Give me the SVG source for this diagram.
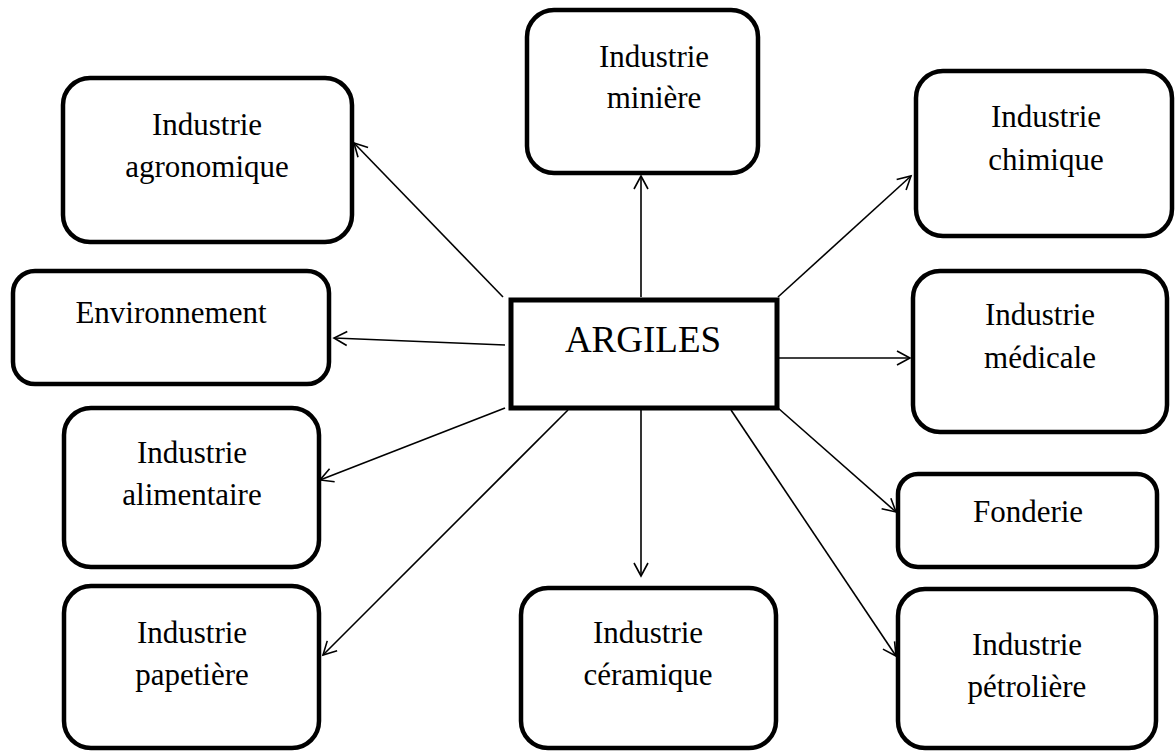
<svg xmlns="http://www.w3.org/2000/svg" width="1176" height="751" viewBox="0 0 1176 751">
<defs>
<marker id="arr" markerUnits="userSpaceOnUse" markerWidth="30" markerHeight="30" viewBox="-15 -15 30 30" refX="0" refY="0" orient="auto">
<path d="M-13,-7 L0,0 L-13,7" fill="none" stroke="#000" stroke-width="1.6"/>
</marker>
</defs>
<style>
.box{fill:#fff;stroke:#000;stroke-width:4.5}
.t{font-family:"Liberation Serif","Times New Roman",serif;font-size:31px;fill:#000;text-anchor:middle}
.c line{stroke:#000;stroke-width:1.6;marker-end:url(#arr)}
</style>
<rect width="1176" height="751" fill="#fff"/>
<g id="connectors" class="c">
<line x1="503" y1="297" x2="354" y2="143"/>
<line x1="641" y1="297" x2="641" y2="176"/>
<line x1="778" y1="297" x2="911" y2="176"/>
<line x1="505" y1="345" x2="334" y2="338"/>
<line x1="778" y1="358" x2="910" y2="358"/>
<line x1="505" y1="408" x2="320" y2="480"/>
<line x1="568" y1="410" x2="323" y2="655"/>
<line x1="641" y1="410" x2="641" y2="576"/>
<line x1="778" y1="408" x2="896" y2="512"/>
<line x1="731" y1="410" x2="896" y2="656"/>
</g>
<g id="argiles">
<rect x="511" y="300" width="266" height="108" fill="#fff" stroke="#000" stroke-width="5"/>
<text class="t" x="643" y="352" style="font-size:37px">ARGILES</text>
</g>
<g id="miniere">
<rect class="box" x="527" y="10" width="231" height="163" rx="27"/>
<text class="t" x="654" y="67">Industrie</text>
<text class="t" x="654" y="108">minière</text>
</g>
<g id="agronomique">
<rect class="box" x="63" y="78" width="289" height="164" rx="27"/>
<text class="t" x="207" y="135">Industrie</text>
<text class="t" x="207" y="177">agronomique</text>
</g>
<g id="chimique">
<rect class="box" x="916" y="71" width="256" height="165" rx="27"/>
<text class="t" x="1046" y="127">Industrie</text>
<text class="t" x="1046" y="170">chimique</text>
</g>
<g id="environnement">
<rect class="box" x="13" y="271" width="316" height="113" rx="22"/>
<text class="t" x="171" y="323">Environnement</text>
</g>
<g id="medicale">
<rect class="box" x="913" y="271" width="254" height="161" rx="27"/>
<text class="t" x="1040" y="325">Industrie</text>
<text class="t" x="1040" y="368">médicale</text>
</g>
<g id="alimentaire">
<rect class="box" x="64" y="408" width="255" height="159" rx="27"/>
<text class="t" x="192" y="463">Industrie</text>
<text class="t" x="192" y="505">alimentaire</text>
</g>
<g id="fonderie">
<rect class="box" x="898" y="474" width="259" height="93" rx="20"/>
<text class="t" x="1028" y="522">Fonderie</text>
</g>
<g id="papetiere">
<rect class="box" x="64" y="586" width="255" height="162" rx="27"/>
<text class="t" x="192" y="643">Industrie</text>
<text class="t" x="192" y="685">papetière</text>
</g>
<g id="ceramique">
<rect class="box" x="521" y="588" width="255" height="160" rx="27"/>
<text class="t" x="648" y="643">Industrie</text>
<text class="t" x="648" y="685">céramique</text>
</g>
<g id="petroliere">
<rect class="box" x="898" y="589" width="258" height="159" rx="27"/>
<text class="t" x="1027" y="655">Industrie</text>
<text class="t" x="1027" y="697">pétrolière</text>
</g>
</svg>
